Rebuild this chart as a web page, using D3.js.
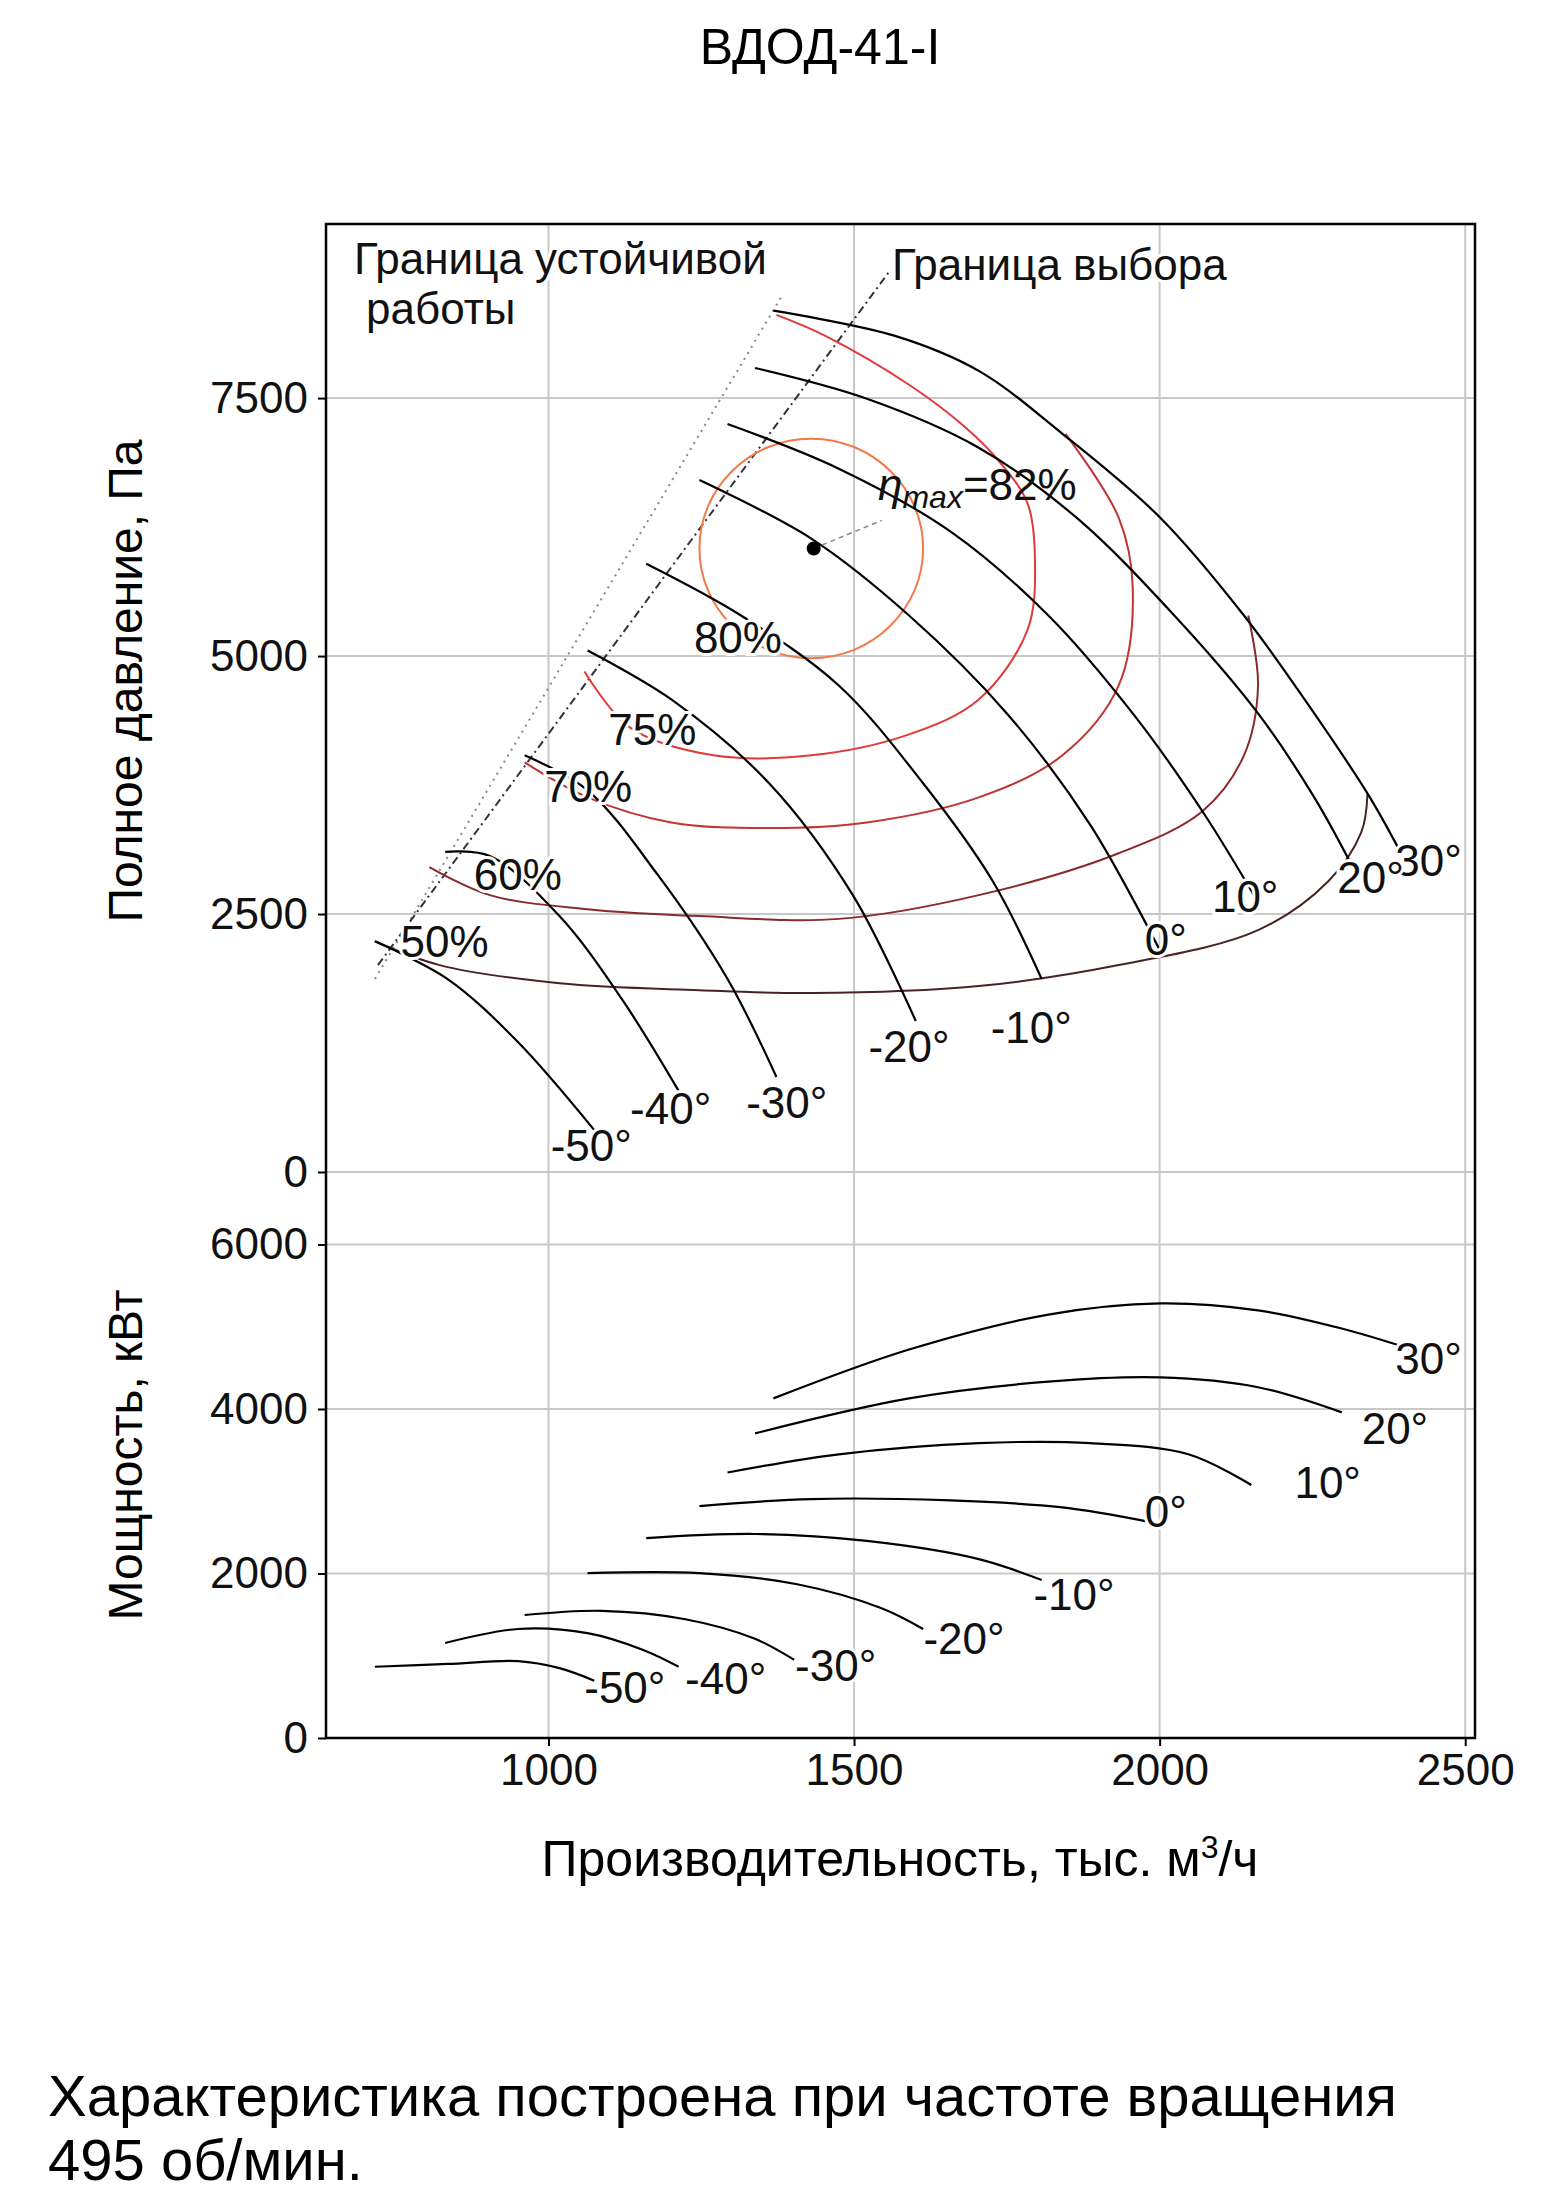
<!DOCTYPE html>
<html><head><meta charset="utf-8">
<script src="https://cdn.jsdelivr.net/npm/d3@7"></script>
<style>body{margin:0;background:#fff}text{font-family:"Liberation Sans",Arial,sans-serif}</style>
</head><body><svg id="c" width="1556" height="2193"></svg>
<script>
const title="ВДОД-41-I";
const xTicks=[1000,1500,2000,2500];
const pTicks=[0,2500,5000,7500];
const nTicks=[0,2000,4000,6000];
const angles=["30°","20°","10°","0°","-10°","-20°","-30°","-40°","-50°"];
const p30=[[1368,8347],[1567,8103],[1704,7764],[1841,7154],[2001,6341],[2138,5393],[2253,4444],[2344,3631],[2401,3022]];
const p20=[[1338,7791],[1521,7493],[1704,7019],[1864,6341],[2024,5393],[2161,4444],[2253,3631],[2310,3022]];
const p10=[[1293,7249],[1475,6816],[1658,6206],[1818,5393],[1956,4444],[2070,3496],[2161,2615]];
const p0=[[1247,6707],[1430,6138],[1590,5393],[1750,4444],[1887,3360],[2001,2141]];
const pm10=[[1160,5894],[1315,5393],[1475,4715],[1613,3767],[1727,2818],[1807,1870]];
const pm20=[[1064,5054],[1201,4580],[1361,3767],[1498,2683],[1601,1463]];
const pm30=[[961,4038],[1064,3699],[1178,2886],[1293,1870],[1373,921]];
const pm40=[[831,3103],[904,3062],[1018,2480],[1121,1667],[1213,786]];
const pm50=[[716,2236],[835,1870],[950,1260],[1075,406]];
const pCurves=[p30,p20,p10,p0,pm10,pm20,pm30,pm40,pm50];
const pLabelPos=[[2440,2870],[2345,2700],[2140,2520],[2010,2100],[1790,1250],[1590,1070],[1390,520],[1200,470],[1070,110]];
const effNames=["50%","60%","70%","75%","80%"];
const e50=[[716,2236],[822,2005],[1018,1829],[1247,1762],[1430,1734],[1704,1802],[1933,2005],[2161,2344],[2276,2818],[2330,3293],[2340,3659]];
const e60=[[805,2954],[904,2683],[1064,2547],[1247,2480],[1475,2453],[1704,2683],[1933,3089],[2070,3496],[2138,4038],[2161,4715],[2145,5393]];
const e70=[[961,3970],[1064,3631],[1201,3388],[1361,3333],[1521,3388],[1704,3631],[1841,4038],[1933,4715],[1956,5664],[1933,6341],[1846,7154]];
const e75=[[1059,4851],[1133,4309],[1270,4038],[1430,4038],[1590,4241],[1704,4580],[1784,5257],[1796,5935],[1784,6477],[1738,6883],[1681,7222],[1590,7629],[1453,8103],[1373,8306]];
const e80=[[1613,6043],[1599,6450],[1559,6795],[1500,7026],[1430,7107],[1360,7026],[1301,6795],[1261,6450],[1247,6043],[1261,5636],[1301,5291],[1360,5060],[1430,4979],[1500,5060],[1559,5291],[1599,5636]];
const effCurves=[e50,e60,e70,e75,e80];
const effColors=["#4a2222","#8a2a2a","#c03434","#e03a3a","#f07a4a"];
const effLabelPos=[[830,2080],[950,2730],[1065,3590],[1170,4140],[1310,5030]];
const etaPoint=[1434,6043];
const stability=[[716,1870],[1384,8510]];
const selection=[[721,2005],[1556,8713]];
const n30=[[1368,4129],[1590,4723],[1818,5148],[2001,5284],[2161,5199],[2298,4978],[2413,4723]];
const n20=[[1338,3704],[1590,4129],[1818,4332],[2001,4383],[2161,4264],[2298,3959]];
const n10=[[1293,3228],[1475,3449],[1704,3585],[1887,3585],[2047,3449],[2150,3075]];
const n0=[[1247,2820],[1430,2905],[1658,2888],[1841,2803],[1979,2633]];
const nm10=[[1160,2430],[1338,2480],[1521,2396],[1704,2175],[1807,1920]];
const nm20=[[1064,2005],[1247,2005],[1407,1869],[1544,1580],[1613,1325]];
const nm30=[[961,1495],[1087,1546],[1224,1444],[1338,1206],[1402,951]];
const nm40=[[831,1155],[950,1325],[1064,1274],[1155,1070],[1213,866]];
const nm50=[[716,866],[835,900],[950,934],[1018,849],[1075,697]];
const nCurves=[n30,n20,n10,n0,nm10,nm20,nm30,nm40,nm50];
const nLabelPos=[[2440,4420],[2385,3570],[2275,2920],[2010,2570],[1860,1560],[1680,1020],[1470,690],[1290,540],[1125,420]];

const svg=d3.select("#c");
const L=326,R=1475,T=224,B=1738,Z=1172;
const x=d3.scaleLinear().domain([636,2516]).range([L,R]);
const yp=d3.scaleLinear().domain([0,9187]).range([Z,T]);
const yn=d3.scaleLinear().domain([0,6881]).range([B,Z]);
const fs=44;
const g=svg.append("g");
xTicks.forEach(v=>g.append("line").attr("x1",x(v)).attr("x2",x(v)).attr("y1",T).attr("y2",B).attr("stroke","#c8c8c8").attr("stroke-width",2));
pTicks.forEach(v=>g.append("line").attr("x1",L).attr("x2",R).attr("y1",yp(v)).attr("y2",yp(v)).attr("stroke","#c8c8c8").attr("stroke-width",2));
nTicks.slice(1).forEach(v=>g.append("line").attr("x1",L).attr("x2",R).attr("y1",yn(v)).attr("y2",yn(v)).attr("stroke","#c8c8c8").attr("stroke-width",2));
svg.append("rect").attr("x",L).attr("y",T).attr("width",R-L).attr("height",B-T).attr("fill","none").attr("stroke","#000").attr("stroke-width",2.5);
const fmt=d3.format("d");
const ax=svg.append("g").attr("transform",`translate(0,${B})`).call(d3.axisBottom(x).tickValues(xTicks).tickFormat(fmt).tickSize(8).tickPadding(8));
const ap=svg.append("g").attr("transform",`translate(${L},0)`).call(d3.axisLeft(yp).tickValues(pTicks).tickFormat(fmt).tickSize(8).tickPadding(10));
const an=svg.append("g").attr("transform",`translate(${L},0)`).call(d3.axisLeft(yn).tickValues(nTicks).tickFormat(fmt).tickSize(8).tickPadding(10));
[ax,ap,an].forEach(a=>{a.select(".domain").remove();a.selectAll("text").attr("font-size",fs).attr("font-family","Liberation Sans").attr("fill","#111");a.selectAll("line").attr("stroke-width",2);});
const lp=d3.line().x(d=>x(d[0])).y(d=>yp(d[1]));
svg.append("path").attr("d",lp(stability)).attr("stroke","#888").attr("stroke-width",2).attr("stroke-dasharray","2,5").attr("fill","none");
svg.append("path").attr("d",lp(selection)).attr("stroke","#333").attr("stroke-width",2).attr("stroke-dasharray","8,4,2,4").attr("fill","none");
const lc=d3.line().x(d=>x(d[0])).y(d=>yp(d[1])).curve(d3.curveCatmullRom);
effCurves.forEach((c,i)=>{
  const line=i===4?d3.line().x(d=>x(d[0])).y(d=>yp(d[1])).curve(d3.curveCatmullRomClosed):lc;
  svg.append("path").attr("d",line(c)).attr("stroke",effColors[i]).attr("stroke-width",2).attr("fill","none");
});
pCurves.forEach(c=>svg.append("path").attr("d",lc(c)).attr("stroke","#000").attr("stroke-width",2.2).attr("fill","none"));
const lcn=d3.line().x(d=>x(d[0])).y(d=>yn(d[1])).curve(d3.curveCatmullRom);
nCurves.forEach(c=>svg.append("path").attr("d",lcn(c)).attr("stroke","#000").attr("stroke-width",2.2).attr("fill","none"));
function lab(t,px,py,anchor,size){return svg.append("text").attr("x",px).attr("y",py).attr("font-size",size||fs).attr("text-anchor",anchor||"middle").attr("fill","#111")
  .attr("paint-order","stroke").attr("stroke","#fff").attr("stroke-width",6).text(t);}
angles.forEach((a,i)=>lab(a,x(pLabelPos[i][0]),yp(pLabelPos[i][1]),"middle"));
angles.forEach((a,i)=>lab(a,x(nLabelPos[i][0]),yn(nLabelPos[i][1]),"middle"));
effNames.forEach((e,i)=>lab(e,x(effLabelPos[i][0]),yp(effLabelPos[i][1]),"middle"));
svg.append("line").attr("x1",x(etaPoint[0])).attr("y1",yp(etaPoint[1])).attr("x2",x(etaPoint[0])+68).attr("y2",yp(etaPoint[1])-28).attr("stroke","#888").attr("stroke-width",1.5).attr("stroke-dasharray","5,4");
svg.append("circle").attr("cx",x(etaPoint[0])).attr("cy",yp(etaPoint[1])).attr("r",7).attr("fill","#000");
const et=svg.append("text").attr("x",878).attr("y",500).attr("font-size",44).attr("fill","#111");
et.append("tspan").attr("font-style","italic").text("η");
et.append("tspan").attr("font-style","italic").attr("font-size",32).attr("dy",8).text("max");
et.append("tspan").attr("dy",-8).text("=82%");
lab("Граница устойчивой",354,274,"start",44);
lab("работы",366,324,"start",44);
lab("Граница выбора",892,280,"start",44);
svg.append("text").attr("x",820).attr("y",64).attr("text-anchor","middle").attr("font-size",50).text(title);
svg.append("text").attr("transform",`translate(142,681) rotate(-90)`).attr("text-anchor","middle").attr("font-size",48).text("Полное давление, Па");
svg.append("text").attr("transform",`translate(142,1455) rotate(-90)`).attr("text-anchor","middle").attr("font-size",48).text("Мощность, кВт");
const xt=svg.append("text").attr("x",900).attr("y",1876).attr("text-anchor","middle").attr("font-size",50).text("Производительность, тыс. м");
xt.append("tspan").attr("font-size",32).attr("dy",-18).text("3");
xt.append("tspan").attr("dy",18).text("/ч");
svg.append("text").attr("x",48).attr("y",2116).attr("font-size",58).text("Характеристика построена при частоте вращения");
svg.append("text").attr("x",48).attr("y",2180).attr("font-size",58).text("495 об/мин.");
</script></body></html>
